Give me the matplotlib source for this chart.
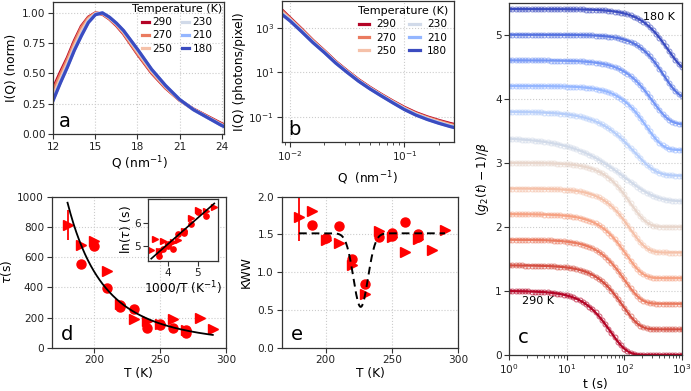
import numpy as np
import matplotlib
matplotlib.use("Agg")
import matplotlib.pyplot as plt
from matplotlib.ticker import NullLocator, FixedLocator

# ---------------- data ----------------
legend_temps = [290, 270, 250, 230, 210, 180]

# panel a: normalised I(Q)
q_a = [12, 12.5, 13, 13.5, 14, 14.5, 15, 15.5, 16, 16.5, 17, 18, 19, 20, 21, 22, 23, 24, 24.2]
iq_290 = [0.38, 0.51, 0.63, 0.77, 0.89, 0.965, 1.0, 0.99, 0.95, 0.895, 0.828, 0.66, 0.505, 0.38, 0.28, 0.205, 0.145, 0.085, 0.075]
iq_270 = [0.36, 0.49, 0.615, 0.755, 0.88, 0.96, 0.998, 0.992, 0.952, 0.90, 0.832, 0.665, 0.51, 0.383, 0.28, 0.203, 0.142, 0.08, 0.07]
iq_250 = [0.32, 0.455, 0.585, 0.725, 0.85, 0.945, 0.995, 0.997, 0.958, 0.907, 0.843, 0.68, 0.52, 0.39, 0.282, 0.20, 0.138, 0.075, 0.065]
iq_230 = [0.29, 0.43, 0.56, 0.70, 0.82, 0.93, 0.988, 1.0, 0.963, 0.913, 0.852, 0.695, 0.532, 0.398, 0.285, 0.20, 0.135, 0.072, 0.062]
iq_210 = [0.285, 0.425, 0.555, 0.695, 0.815, 0.925, 0.987, 1.0, 0.964, 0.914, 0.854, 0.698, 0.534, 0.40, 0.285, 0.20, 0.135, 0.071, 0.061]
iq_180 = [0.28, 0.42, 0.55, 0.69, 0.81, 0.92, 0.985, 1.0, 0.965, 0.915, 0.855, 0.70, 0.535, 0.40, 0.285, 0.20, 0.135, 0.07, 0.06]

# panel b: log10 of Q and of I(Q) (photons/pixel)
logq_b = [-2.07, -2.0, -1.9, -1.8, -1.7, -1.6, -1.5, -1.4, -1.3, -1.2, -1.1, -1.0, -0.9, -0.8, -0.7, -0.6, -0.5, -0.43, -0.356]
logi_290 = [3.82, 3.47, 2.97, 2.45, 1.98, 1.49, 1.07, 0.67, 0.32, 0.0, -0.30, -0.58, -0.82, -1.01, -1.17, -1.31, -1.43, -1.50, -1.56]
logi_270 = [3.78, 3.44, 2.94, 2.43, 1.96, 1.47, 1.05, 0.65, 0.30, -0.02, -0.32, -0.61, -0.85, -1.04, -1.20, -1.35, -1.47, -1.54, -1.60]
logi_250 = [3.72, 3.40, 2.91, 2.40, 1.94, 1.45, 1.03, 0.63, 0.28, -0.04, -0.34, -0.63, -0.88, -1.07, -1.24, -1.39, -1.51, -1.58, -1.65]
logi_230 = [3.67, 3.37, 2.88, 2.38, 1.92, 1.44, 1.02, 0.62, 0.27, -0.05, -0.36, -0.65, -0.90, -1.10, -1.27, -1.42, -1.55, -1.62, -1.69]
logi_210 = [3.64, 3.35, 2.86, 2.36, 1.91, 1.43, 1.01, 0.61, 0.26, -0.06, -0.37, -0.67, -0.92, -1.12, -1.29, -1.44, -1.57, -1.65, -1.71]
logi_180 = [3.62, 3.33, 2.85, 2.35, 1.90, 1.42, 1.00, 0.60, 0.25, -0.07, -0.38, -0.68, -0.93, -1.13, -1.30, -1.45, -1.58, -1.66, -1.73]

# panel c: KWW fit parameters of the correlation functions
c_temps = [290, 280, 270, 260, 250, 240, 230, 220, 210, 200, 190, 180]
c_tau = [91, 150, 162, 172, 202, 205, 245, 275, 385, 500, 750, 910]
c_kww = [1.5, 1.5, 1.5, 1.5, 1.5, 1.5, 0.8, 1.15, 1.5, 1.45, 1.6, 1.52]
c_offset = [0.0, 0.4, 0.8, 1.2, 1.6, 2.0, 2.4, 2.8, 3.2, 3.6, 4.0, 4.4]

# panel d: relaxation time
d_circ_T = [190, 200, 210, 220, 220, 230, 240, 250, 250, 260, 270, 270]
d_circ_tau = [553, 672, 393, 283, 267, 256, 128, 160, 150, 128, 118, 95]
d_tri_T = [180, 190, 200, 210, 220, 230, 240, 250, 260, 270, 280, 290]
d_tri_tau = [815, 680, 705, 505, 290, 193, 180, 160, 188, 118, 197, 122]
d_err_T = [180]
d_err_tau = [815]
d_err = [100]
arrh_a, arrh_b = 0.467, 1.152   # ln(tau) = a + b*1000/T

# panel e: KWW exponent
e_circ_T = [190, 200, 210, 220, 230, 240, 250, 250, 260, 270, 270]
e_circ_k = [1.63, 1.45, 1.61, 1.175, 0.85, 1.46, 1.515, 1.48, 1.67, 1.50, 1.47]
e_tri_T = [180, 190, 200, 210, 220, 230, 240, 250, 260, 270, 280, 290]
e_tri_k = [1.735, 1.815, 1.42, 1.39, 1.095, 0.71, 1.545, 1.47, 1.27, 1.435, 1.29, 1.56]
e_err_T = [180]
e_err_k = [1.735]
e_err = [0.32]
dip_base, dip_depth, dip_center, dip_sigma = 1.515, 0.975, 226.5, 5.5

# ---------------- style ----------------
plt.rcParams['font.family'] = ['DejaVu Sans']
plt.rcParams['axes.edgecolor'] = '#333333'
plt.rcParams['xtick.color'] = '#333333'
plt.rcParams['ytick.color'] = '#333333'
plt.rcParams['xtick.labelcolor'] = '#222222'
plt.rcParams['ytick.labelcolor'] = '#222222'
plt.rcParams['xtick.labelsize'] = 7.6
plt.rcParams['ytick.labelsize'] = 7.6
plt.rcParams['axes.labelsize'] = 8.8
plt.rcParams['axes.linewidth'] = 0.9

W, H = 691, 391
fig = plt.figure(figsize=(W / 100, H / 100), dpi=100)


def px_axes(left, top, right, bottom):
    return fig.add_axes([left / W, 1 - bottom / H, (right - left) / W, (bottom - top) / H])


cmap = plt.get_cmap('coolwarm')
def tcol(T):
    return cmap((T - 180) / (290 - 180))

grid_kw = dict(color='#cccccc', linestyle=':', linewidth=0.8)
letter_kw = dict(fontsize=14)
leg_kw = dict(ncol=2, frameon=False, fontsize=7.6, title_fontsize=8, labelspacing=0.3,
              loc='upper right')

# ---------------- panel a ----------------
axa = px_axes(53.3, 2, 224.5, 134)
for T, y in zip(legend_temps, [iq_290, iq_270, iq_250, iq_230, iq_210, iq_180]):
    axa.plot(q_a, y, color=tcol(T), lw=2.3, label=str(T))
axa.set_xlim(12, 24.2)
axa.set_ylim(0, 1.09)
axa.set_xticks([12, 15, 18, 21, 24])
axa.set_yticks([0, 0.25, 0.5, 0.75, 1.0])
axa.set_yticklabels(['0.00', '0.25', '0.50', '0.75', '1.00'])
axa.grid(True, **grid_kw)
axa.set_xlabel('Q (nm$^{-1}$)', labelpad=2)
axa.set_ylabel('I(Q) (norm)', labelpad=3)
axa.text(0.03, 0.05, 'a', transform=axa.transAxes, **letter_kw)
axa.legend(title='Temperature (K)', handlelength=0.7, handletextpad=0.3, columnspacing=0.9,
           borderaxespad=0.1, borderpad=0.1, **leg_kw)

# ---------------- panel b ----------------
axb = px_axes(281.7, 1, 453.5, 142)
for T, y in zip(legend_temps, [logi_290, logi_270, logi_250, logi_230, logi_210, logi_180]):
    axb.plot(10 ** np.array(logq_b), 10 ** np.array(y), color=tcol(T), lw=2.3, label=str(T))
axb.set_xscale('log')
axb.set_yscale('log')
axb.set_xlim(0.00846, 0.269)
axb.set_ylim(0.0071, 1.7e4)
axb.yaxis.set_major_locator(FixedLocator([1e-1, 1e1, 1e3]))
axb.yaxis.set_minor_locator(NullLocator())
axb.grid(True, which='major', **grid_kw)
axb.set_xlabel('Q  (nm$^{-1}$)', labelpad=4)
axb.set_ylabel('I(Q) (photons/pixel)', labelpad=2)
axb.text(0.04, 0.05, 'b', transform=axb.transAxes, **letter_kw)
axb.legend(title='Temperature (K)', handlelength=1.0, handletextpad=0.7, columnspacing=1.2,
           borderaxespad=0.3, borderpad=0.2, **leg_kw)

# ---------------- panel c ----------------
axc = px_axes(509.3, 2.7, 681.7, 355)
t_line = np.logspace(0, 3, 300)
t_pts = np.logspace(0, 3, 55)
for T, tau, k, off in zip(c_temps, c_tau, c_kww, c_offset):
    col = tcol(T)
    axc.plot(t_pts, off + np.exp(-2 * (t_pts / tau) ** k), 'o', mfc='none', mec=col,
             ms=3.5, mew=0.8, alpha=0.6)
    axc.plot(t_line, off + np.exp(-2 * (t_line / tau) ** k), color=col, lw=1.6)
axc.set_xscale('log')
axc.set_xlim(1, 1000)
axc.set_ylim(0, 5.5)
axc.set_yticks([0, 1, 2, 3, 4, 5])
axc.grid(True, which='major', **grid_kw)
axc.set_xlabel('t (s)', labelpad=1)
axc.set_ylabel(r'$(g_2(t)-1)/\beta$', labelpad=3)
axc.text(0.96, 0.975, '180 K', transform=axc.transAxes, ha='right', va='top', fontsize=8)
axc.text(1.65, 0.85, '290 K', fontsize=8, va='center')
axc.text(0.05, 0.035, 'c', transform=axc.transAxes, **letter_kw)

# ---------------- panel d ----------------
axd = px_axes(51.7, 196.7, 226, 347.7)
axd.errorbar(d_err_T, d_err_tau, yerr=d_err, fmt='none', ecolor='red', elinewidth=1.3)
axd.plot(d_circ_T, d_circ_tau, 'o', color='red', ms=6.5, ls='none')
axd.plot(d_tri_T, d_tri_tau, '>', color='red', ms=6.5, ls='none')
T_fit = np.linspace(180, 290, 200)
axd.plot(T_fit, np.exp(arrh_a + arrh_b * 1000 / T_fit), color='black', lw=1.3)
axd.set_xlim(168, 300)
axd.set_ylim(0, 1000)
axd.set_xticks([200, 250, 300])
axd.set_yticks([0, 200, 400, 600, 800, 1000])
axd.grid(True, **grid_kw)
axd.set_xlabel('T (K)', labelpad=1)
axd.set_ylabel(r'$\tau$(s)', labelpad=2)
axd.text(0.05, 0.05, 'd', transform=axd.transAxes, **letter_kw)

# inset
axi = px_axes(148.3, 199.3, 217.7, 260.7)
axi.plot(1000 / np.array(d_circ_T), np.log(d_circ_tau), 'o', color='red', ms=3.8, ls='none')
axi.plot(1000 / np.array(d_tri_T), np.log(d_tri_tau), '>', color='red', ms=3.8, ls='none')
x_fit = np.linspace(1000 / 290, 1000 / 180, 50)
axi.plot(x_fit, arrh_a + arrh_b * x_fit, color='black', lw=1.2)
axi.set_xlim(3.35, 5.67)
axi.set_ylim(4.35, 7.05)
axi.set_xticks([4, 5])
axi.set_yticks([5, 6])
axi.set_xlabel('1000/T (K$^{-1}$)', fontsize=8.8, labelpad=1)
axi.set_ylabel(r'ln($\tau$) (s)', fontsize=8.8, labelpad=1)

# ---------------- panel e ----------------
axe = px_axes(281.7, 196.7, 458.3, 347.7)
axe.errorbar(e_err_T, e_err_k, yerr=e_err, fmt='none', ecolor='red', elinewidth=1.3)
axe.plot(e_circ_T, e_circ_k, 'o', color='red', ms=6.5, ls='none')
axe.plot(e_tri_T, e_tri_k, '>', color='red', ms=6.5, ls='none')
axe.plot(T_fit, dip_base - dip_depth * np.exp(-0.5 * ((T_fit - dip_center) / dip_sigma) ** 2),
         color='black', lw=1.4, ls=(0, (4, 2.5)))
axe.set_xlim(167, 300)
axe.set_ylim(0, 2.0)
axe.set_xticks([200, 250, 300])
axe.set_yticks([0, 0.5, 1.0, 1.5, 2.0])
axe.set_yticklabels(['0.0', '0.5', '1.0', '1.5', '2.0'])
axe.grid(True, **grid_kw)
axe.set_xlabel('T (K)', labelpad=1)
axe.set_ylabel('KWW', labelpad=3)
axe.text(0.05, 0.05, 'e', transform=axe.transAxes, **letter_kw)

for ax in [axa, axb, axc, axd, axe, axi]:
    ax.tick_params(length=3.5, width=0.8, pad=2)

fig.savefig('out.png', dpi=100)
